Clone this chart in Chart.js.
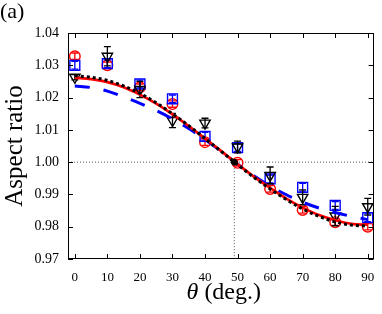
<!DOCTYPE html>
<html><head><meta charset="utf-8">
<script src="https://cdn.jsdelivr.net/npm/chart.js@4.4.0/dist/chart.umd.min.js"></script>
<style>html,body{margin:0;padding:0;background:#fff;}#wrap{width:382px;height:314px;}</style>
</head><body><div id="wrap"><canvas id="c" width="382" height="314"></canvas></div>
<script>
// ---- data ----
const angles = [0, 10, 20, 30, 40, 50, 60, 70, 80, 90];
const circleVals = [1.0328, 1.0300, 1.0232, 1.0180, 1.0062, 0.9998, 0.9917, 0.9852, 0.9814, 0.9800];
const circleErr  = [0.0010, 0.0010, 0.0010, 0.0010, 0.0010, 0.0010, 0.0010, 0.0010, 0.0010, 0.0010];
const squareVals = [1.0300, 1.0305, 1.0242, 1.0196, 1.0080, 1.0045, 0.9948, 0.9922, 0.9866, 0.9828];
const squareErr  = [0.0012, 0.0012, 0.0012, 0.0012, 0.0012, 0.0012, 0.0012, 0.0012, 0.0012, 0.0012];
const triVals    = [1.0263, 1.0328, 1.0225, 1.0129, 1.0121, 1.0047, 0.9959, 0.9891, 0.9833, 0.9862];
const triErr     = [0.0008, 0.0030, 0.0025, 0.0022, 0.0015, 0.0018, 0.0026, 0.0023, 0.0030, 0.0026];

const curveAngles = [0, 5, 10, 15, 20, 25, 30, 35, 40, 45, 50, 55, 60, 65, 70, 75, 80, 85, 90];
const redCurve    = [1.0262, 1.0257, 1.0248, 1.0232, 1.0209, 1.0181, 1.0148, 1.0112, 1.0073, 1.0034, 0.9994, 0.9955, 0.9920, 0.9887, 0.9859, 0.9836, 0.9820, 0.9809, 0.9806];
const dottedCurve = [1.0268, 1.0263, 1.0253, 1.0236, 1.0213, 1.0184, 1.0150, 1.0113, 1.0073, 1.0033, 0.9992, 0.9953, 0.9917, 0.9884, 0.9855, 0.9832, 0.9815, 0.9805, 0.9802];
const blueCurve   = [1.0236, 1.0231, 1.0220, 1.0202, 1.0182, 1.0160, 1.0134, 1.0104, 1.0070, 1.0033, 0.9994, 0.9958, 0.9926, 0.9899, 0.9876, 0.9858, 0.9844, 0.9832, 0.9822];

const crossPoint = [49, 1.00];
const xTicks = [0, 10, 20, 30, 40, 50, 60, 70, 80, 90];
const yTicks = [0.97, 0.98, 0.99, 1.00, 1.01, 1.02, 1.03, 1.04];
const xRange = [-2.1, 91.8];
const yRange = [0.97, 1.04];
const panelLabel = '(a)';
const yTitle = 'Aspect ratio';
const xTitleSymbol = 'θ';
const xTitleRest = ' (deg.)';

const SERIF = '"Liberation Serif", "DejaVu Serif", serif';
const pts = (xs, ys) => xs.map((x, i) => ({x: x, y: ys[i]}));

const errMap = {3: {err: triErr, color: '#000'}, 4: {err: squareErr, color: '#0000ff'}, 5: {err: circleErr, color: '#ff0000'}};

const deco = {
  id: 'deco',
  afterDatasetDraw(chart, args) {
    const e = errMap[args.index];
    if (!e) return;
    const ctx = chart.ctx, xs = chart.scales.x, ys = chart.scales.y;
    const data = chart.data.datasets[args.index].data;
    ctx.save();
    ctx.strokeStyle = e.color; ctx.lineWidth = 1.3; ctx.setLineDash([]);
    data.forEach((p, i) => {
      const px = xs.getPixelForValue(p.x);
      const y1 = ys.getPixelForValue(p.y + e.err[i]);
      const y2 = ys.getPixelForValue(p.y - e.err[i]);
      ctx.beginPath();
      ctx.moveTo(px, y1); ctx.lineTo(px, y2);
      ctx.moveTo(px - 3.5, y1); ctx.lineTo(px + 3.5, y1);
      ctx.moveTo(px - 3.5, y2); ctx.lineTo(px + 3.5, y2);
      ctx.stroke();
    });
    ctx.restore();
  },
  afterDraw(chart) {
    const ctx = chart.ctx, a = chart.chartArea, xs = chart.scales.x, ys = chart.scales.y;
    ctx.save();
    ctx.strokeStyle = '#000'; ctx.lineWidth = 1; ctx.setLineDash([]);
    ctx.strokeRect(Math.round(a.left) + 0.5, Math.round(a.top) + 0.5, Math.round(a.right - a.left) - 1, Math.round(a.bottom - a.top) - 1);
    ctx.beginPath();
    xTicks.forEach(v => {
      const px = Math.round(xs.getPixelForValue(v)) + 0.5;
      ctx.moveTo(px, a.bottom); ctx.lineTo(px, a.bottom - 5);
      ctx.moveTo(px, a.top); ctx.lineTo(px, a.top + 5);
    });
    yTicks.forEach(v => {
      const py = Math.round(ys.getPixelForValue(v)) + 0.5;
      ctx.moveTo(a.left, py); ctx.lineTo(a.left + 5, py);
      ctx.moveTo(a.right, py); ctx.lineTo(a.right - 5, py);
    });
    ctx.stroke();
    ctx.fillStyle = '#000';
    // x tick labels
    ctx.font = '13px ' + SERIF;
    ctx.textAlign = 'center'; ctx.textBaseline = 'middle';
    xTicks.forEach(v => ctx.fillText(String(v), xs.getPixelForValue(v), a.bottom + 19));
    // panel label
    ctx.font = '22px ' + SERIF;
    ctx.textAlign = 'left'; ctx.textBaseline = 'middle';
    ctx.fillText(panelLabel, 0, 12);
    // x title with italic theta
    const f1 = 'italic 24px ' + SERIF, f2 = '24px ' + SERIF;
    ctx.font = f1; const w1 = ctx.measureText(xTitleSymbol).width;
    ctx.font = f2; const w2 = ctx.measureText(xTitleRest).width;
    const cx = (a.left + a.right) / 2 + 3;
    const x0 = cx - (w1 + w2) / 2;
    ctx.font = f1; ctx.fillText(xTitleSymbol, x0, 293);
    ctx.font = f2; ctx.fillText(xTitleRest, x0 + w1, 293);
    ctx.restore();
  }
};

new Chart(document.getElementById('c'), {
  type: 'scatter',
  data: {
    datasets: [
      {label: 'dotted', data: pts(curveAngles, dottedCurve), showLine: true, borderColor: '#000', borderWidth: 3, borderDash: [3, 3], pointRadius: 0, cubicInterpolationMode: 'monotone', order: 1},
      {label: 'red', data: pts(curveAngles, redCurve), showLine: true, borderColor: '#ff0000', borderWidth: 2.7, pointRadius: 0, cubicInterpolationMode: 'monotone', order: 2},
      {label: 'blue', data: pts(curveAngles, blueCurve), showLine: true, borderColor: '#0000ff', borderWidth: 3, borderDash: [15, 14], pointRadius: 0, cubicInterpolationMode: 'monotone', order: 3},
      {label: 'triangles', data: pts(angles, triVals), pointStyle: 'triangle', rotation: 180, pointRadius: 6, pointBorderWidth: 1.4, borderColor: '#000', backgroundColor: 'rgba(0,0,0,0)', order: 4},
      {label: 'squares', data: pts(angles, squareVals), pointStyle: 'rect', pointRadius: 7, pointBorderWidth: 1.4, borderColor: '#0000ff', backgroundColor: 'rgba(0,0,0,0)', order: 5},
      {label: 'circles', data: pts(angles, circleVals), pointStyle: 'circle', pointRadius: 5.3, pointBorderWidth: 1.4, borderColor: '#ff0000', backgroundColor: 'rgba(0,0,0,0)', order: 6},
      {label: 'hline', data: [{x: xRange[0], y: crossPoint[1]}, {x: xRange[1], y: crossPoint[1]}], showLine: true, borderColor: '#555', borderWidth: 1, borderDash: [1, 2], pointRadius: 0, order: 10},
      {label: 'vline', data: [{x: crossPoint[0], y: crossPoint[1]}, {x: crossPoint[0], y: yRange[0]}], showLine: true, borderColor: '#555', borderWidth: 1, borderDash: [1, 2], pointRadius: 0, order: 10},
      {label: 'cross', data: [{x: crossPoint[0], y: crossPoint[1]}], pointStyle: 'circle', pointRadius: 3, backgroundColor: '#000', borderColor: '#000', order: 0}
    ]
  },
  options: {
    responsive: false, animation: false, devicePixelRatio: 1,
    layout: {padding: {top: 33, right: 1, left: 0, bottom: 0}},
    plugins: {legend: {display: false}, tooltip: {enabled: false}},
    scales: {
      x: {
        type: 'linear', min: xRange[0], max: xRange[1],
        grid: {display: false, drawTicks: false}, border: {display: false},
        afterBuildTicks: s => { s.ticks = xTicks.map(v => ({value: v})); },
        afterFit: s => { s.height = 55; },
        ticks: {display: false}
      },
      y: {
        type: 'linear', min: yRange[0], max: yRange[1],
        grid: {display: false, drawTicks: false}, border: {display: false},
        afterBuildTicks: s => { s.ticks = yTicks.map(v => ({value: v})); },
        afterFit: s => { s.width = 68; },
        ticks: {font: {family: SERIF, size: 14}, color: '#000', padding: 9, callback: v => Number(v).toFixed(2)},
        title: {display: true, text: yTitle, font: {family: SERIF, size: 25}, color: '#000', padding: {top: 0, bottom: 0}}
      }
    }
  },
  plugins: [deco]
});
</script>
</body></html>
